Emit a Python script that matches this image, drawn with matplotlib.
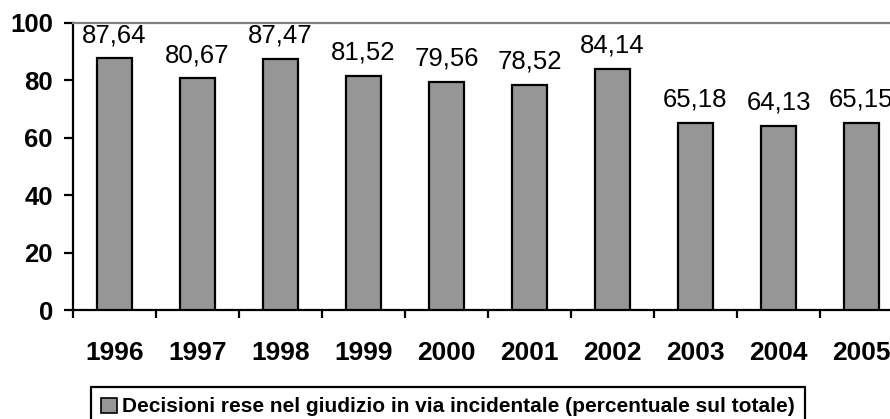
import matplotlib
matplotlib.use("Agg")
import matplotlib.pyplot as plt
from matplotlib.patches import Patch

years = ["1996", "1997", "1998", "1999", "2000", "2001", "2002", "2003", "2004", "2005"]
values = [87.64, 80.67, 87.47, 81.52, 79.56, 78.52, 84.14, 65.18, 64.13, 65.15]
yticks = [0, 20, 40, 60, 80, 100]
legend_label = "Decisioni rese nel giudizio in via incidentale (percentuale sul totale)"

plt.rcParams['font.family'] = ['Liberation Sans', 'DejaVu Sans']

W, H = 890, 419
fig = plt.figure(figsize=(W / 100, H / 100), dpi=100)
left, right, top, bottom = 73, 903, 23, 310
ax = fig.add_axes([left / W, (H - bottom) / H, (right - left) / W, (bottom - top) / H])

x = list(range(len(years)))
bars = ax.bar(x, values, width=0.41, color="#969696", edgecolor="black", linewidth=1.6, zorder=3)

for xi, v in zip(x, values):
    ax.annotate(f"{v:.2f}".replace(".", ","), (xi, v), xytext=(0, 8), textcoords="offset points",
                ha="center", va="bottom", fontsize=18.5)

ax.set_xlim(-0.5, len(years) - 0.5)
ax.set_ylim(0, 100)
ax.set_yticks(yticks)
ax.set_yticklabels([str(t) for t in yticks], fontsize=18.5, fontweight="bold")
ax.set_xticks(x)
ax.set_xticklabels(years, fontsize=19, fontweight="bold")
ax.set_xticks([i - 0.5 for i in range(len(years) + 1)], minor=True)
ax.tick_params(axis="x", which="major", length=0, pad=22)
ax.tick_params(axis="x", which="minor", length=6, width=1.6, direction="out")
ax.tick_params(axis="y", length=6.5, width=1.6, direction="out", pad=8)

ax.spines["left"].set_linewidth(1.6)
ax.spines["bottom"].set_linewidth(1.6)
ax.spines["top"].set_color("#808080")
ax.spines["top"].set_linewidth(1.6)
ax.spines["right"].set_visible(False)

handle = Patch(facecolor="#969696", edgecolor="black", linewidth=1.2)
leg = fig.legend([handle], [legend_label], loc="upper left",
                 bbox_to_anchor=(91 / W, 1 - 387 / H), frameon=True, fancybox=False,
                 edgecolor="black", framealpha=1, prop={"weight": "bold", "size": 15},
                 handlelength=0.75, handleheight=0.75, handletextpad=0.25, borderpad=0.5,
                 borderaxespad=0)
leg.get_frame().set_linewidth(1.6)

fig.savefig("out.png", dpi=100)
